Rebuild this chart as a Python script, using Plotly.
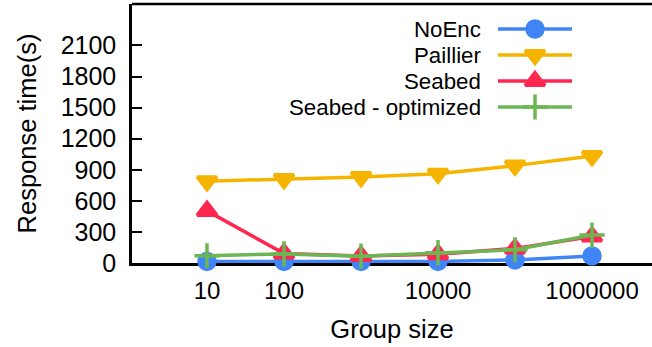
import plotly.graph_objects as go

# ---- data ----
group_sizes = [10, 100, 1000, 10000, 100000, 1000000]
noenc = [15, 15, 15, 15, 30, 68]
paillier = [790, 810, 830, 862, 940, 1032]
seabed = [503, 92, 68, 85, 140, 255]
seabed_opt = [70, 88, 66, 100, 128, 270]

series_names = ["NoEnc", "Paillier", "Seabed", "Seabed - optimized"]
series_values = [noenc, paillier, seabed, seabed_opt]
colors = ["rgb(64,133,245)", "rgb(245,180,0)", "rgb(255,38,80)", "rgb(108,182,84)"]
symbols = ["circle", "triangle-down", "triangle-up", "cross-thin"]
sizes = [16, 17, 17, 18]

x_tickvals = [10, 100, 10000, 1000000]
x_ticktext = ["10", "100", "10000", "1000000"]
y_tickvals = [0, 300, 600, 900, 1200, 1500, 1800, 2100]

FONT = "Liberation Sans, Arial, Helvetica, sans-serif"

W, H = 652, 347
L, R, T, B = 132, 0, 4, 84

fig = go.Figure()
for name, vals, c, s, sz in zip(series_names, series_values, colors, symbols, sizes):
    fig.add_trace(go.Scatter(
        x=group_sizes, y=vals, mode="lines+markers", name=name,
        line=dict(color=c, width=3.5),
        marker=dict(symbol=s, size=sz, color=c, line=dict(color=c, width=3.5)),
        cliponaxis=False, showlegend=False,
    ))

# custom legend (text right-aligned, sample on the right), in pixel coords via overlay axes
leg_y = [29, 55, 81, 107]
for name, c, s, sz, yy in zip(series_names, colors, symbols, sizes, leg_y):
    fig.add_trace(go.Scatter(
        x=[498, 572], y=[yy, yy], mode="lines", xaxis="x2", yaxis="y2",
        line=dict(color=c, width=3.5), showlegend=False, hoverinfo="skip",
    ))
    fig.add_trace(go.Scatter(
        x=[535], y=[yy], mode="markers", xaxis="x2", yaxis="y2",
        marker=dict(symbol=s, size=sz, color=c, line=dict(color=c, width=3.5)),
        showlegend=False, hoverinfo="skip", cliponaxis=False,
    ))
    fig.add_annotation(x=483, y=yy, xref="x2", yref="y2", text=name, showarrow=False,
                       xanchor="right", yanchor="middle",
                       font=dict(family=FONT, size=22.3, color="black"))

fig.update_layout(
    width=W, height=H,
    margin=dict(l=L, r=R, t=T, b=B, pad=0),
    paper_bgcolor="white", plot_bgcolor="white",
    font=dict(family=FONT, size=24, color="black"),
    xaxis=dict(
        type="log", range=[0.026, 6.779],
        tickvals=x_tickvals, ticktext=x_ticktext,
        ticks="inside", ticklen=10, tickwidth=2, tickcolor="black",
        showline=True, linecolor="black", linewidth=2.5, mirror=False,
        showgrid=False, zeroline=False, layer="below traces",
        title=dict(text="Group size", font=dict(size=25.5), standoff=18),
        tickfont=dict(size=24), ticklabelstandoff=4,
    ),
    yaxis=dict(
        range=[0, 2500], tickvals=y_tickvals,
        ticks="inside", ticklen=10, tickwidth=2, tickcolor="black",
        showline=True, linecolor="black", linewidth=2.5, mirror=False,
        showgrid=False, zeroline=False, layer="below traces",
        title=dict(text="Response time(s)", font=dict(size=25.5), standoff=17),
        tickfont=dict(size=25), ticklabelstandoff=8,
    ),
    xaxis2=dict(overlaying="x", range=[L, W], visible=False, fixedrange=True),
    yaxis2=dict(overlaying="y", range=[H - B, T], visible=False, fixedrange=True),
)

# top frame line
fig.add_shape(type="line", xref="paper", yref="paper", x0=0, x1=1, y0=1, y1=1,
              line=dict(color="black", width=2.5), layer="below")

fig.write_html("out.html")
